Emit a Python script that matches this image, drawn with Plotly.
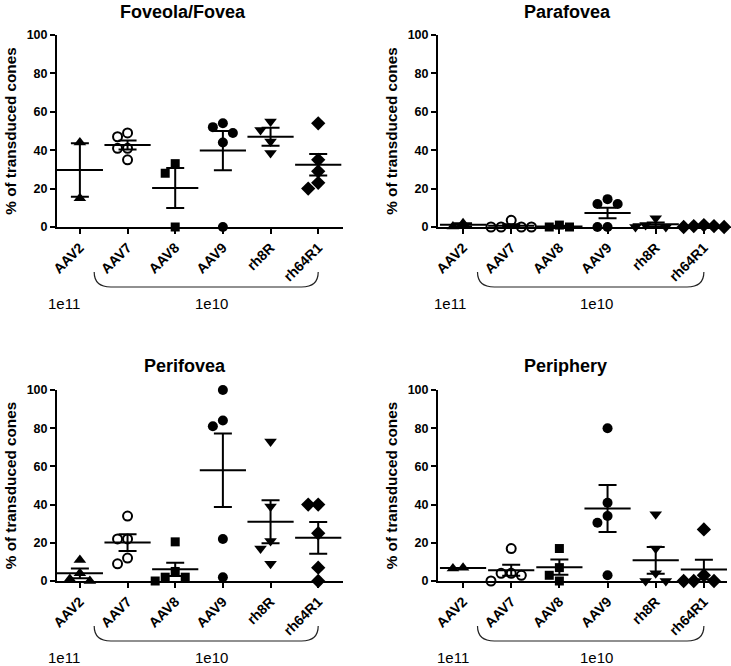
import plotly.graph_objects as go

# ---------------- data ----------------
groups = ["AAV2", "AAV7", "AAV8", "AAV9", "rh8R", "rh64R1"]
region_titles = ["Foveola/Fovea", "Parafovea", "Perifovea", "Periphery"]
dose_labels = ["1e11", "1e10"]
y_title = "% of transduced cones"
y_ticks = [0, 20, 40, 60, 80, 100]

fovea_values = [[44, 15], [49, 47, 41, 41, 35], [33, 28, 0],
                [54, 52, 49, 44, 0], [55, 50.5, 44.5, 38.5], [54, 35, 29, 23, 20]]
fovea_mean = [29.7, 42.7, 20.3, 39.8, 47.0, 32.4]
fovea_sem = [13.9, 2.4, 10.4, 10.2, 4.7, 5.6]

parafovea_values = [[2, 0.3], [3.5, 0, 0, 0, 0], [1, 0, 0],
                    [12, 12, 14.5, 0, 0], [4.5, 1, 0, 0], [1, 0.5, 0.5, 0, 0]]
parafovea_mean = [1.15, 0.7, 0.3, 7.3, 1.4, 0.4]
parafovea_sem = [0.85, 0.7, 0.3, 2.7, 1.0, 0.2]

perifovea_values = [[11, 4, 1, 0], [34, 22, 22, 12, 9], [20.5, 5, 2, 2, 0],
                    [100, 81, 84, 22, 2], [73, 39, 21, 17, 9], [40, 40, 25, 7, 0]]
perifovea_mean = [4.0, 20.1, 6.1, 58.0, 31.0, 22.6]
perifovea_sem = [2.5, 4.4, 3.5, 19.2, 11.3, 8.3]

periphery_values = [[7, 6.6], [17, 4, 4, 3, 0], [17, 7, 3, 0],
                    [80, 41, 34, 30.5, 3], [35, 17, 4, 0, 0], [27, 3, 0, 0, 0]]
periphery_mean = [6.8, 5.6, 7.25, 37.9, 10.8, 6.0]
periphery_sem = [0.0, 2.9, 3.95, 12.3, 7.0, 5.1]

# ---------------- styles / layout ----------------
W, H = 731, 666
FONT = "Liberation Sans, Arial, sans-serif"
symbols = ["triangle-up", "circle", "square", "circle", "triangle-down", "diamond"]
fills = ["black", "white", "black", "black", "black", "black"]
sizes = [11, 9, 9, 10, 11, 11]

panels = [
    dict(values=fovea_values, mean=fovea_mean, sem=fovea_sem,
         xpix=(57, 343), ypix=(227, 35), xr=(-0.48, 5.52), tpos=(183, 12), d11=-0.33),
    dict(values=parafovea_values, mean=parafovea_mean, sem=parafovea_sem,
         xpix=(438, 727), ypix=(227, 35), xr=(-0.52, 5.48), tpos=(567, 12), d11=-0.27),
    dict(values=perifovea_values, mean=perifovea_mean, sem=perifovea_sem,
         xpix=(57, 343), ypix=(581, 390), xr=(-0.48, 5.52), tpos=(185, 366), d11=-0.33),
    dict(values=periphery_values, mean=periphery_mean, sem=periphery_sem,
         xpix=(438, 727), ypix=(581, 390), xr=(-0.52, 5.48), tpos=(565, 366), d11=-0.2),
]


def swarm(vals, xs, ys, diam=10.0, step=0.21):
    placed = []
    offs = [0.0] * len(vals)
    order = sorted(range(len(vals)), key=lambda i: -vals[i])
    for i in order:
        chosen = 0.0
        for k in [0, -1, 1, -2, 2, -3, 3, -4, 4]:
            dx = k * step
            ok = all(((dx - ox) * xs) ** 2 + ((vals[i] - oy) * ys) ** 2 >= diam ** 2
                     for ox, oy in placed)
            if ok:
                chosen = dx
                break
        placed.append((chosen, vals[i]))
        offs[i] = chosen
    return offs


fig = go.Figure()
layout = dict(width=W, height=H, margin=dict(l=0, r=0, t=0, b=0, autoexpand=False),
              paper_bgcolor="white", plot_bgcolor="white", showlegend=False,
              font=dict(family=FONT, color="black"))
annotations = []
shapes = []

for p_i, p in enumerate(panels):
    n = p_i + 1
    xa = "x" if n == 1 else f"x{n}"
    ya = "y" if n == 1 else f"y{n}"
    xkey = "xaxis" if n == 1 else f"xaxis{n}"
    ykey = "yaxis" if n == 1 else f"yaxis{n}"
    x0p, x1p = p["xpix"]
    yb, yt = p["ypix"]
    xs = (x1p - x0p) / (p["xr"][1] - p["xr"][0])
    ys = (yb - yt) / 100.0

    for g_i, vals in enumerate(p["values"]):
        offs = swarm(vals, xs, ys)
        fig.add_trace(go.Scatter(
            x=[g_i + o for o in offs], y=vals, mode="markers",
            xaxis=xa, yaxis=ya, cliponaxis=False, hoverinfo="skip",
            marker=dict(symbol=symbols[g_i], size=sizes[g_i], color=fills[g_i],
                        line=dict(color="black", width=2 if fills[g_i] == "white" else 0)),
        ))
    fig.add_trace(go.Scatter(
        x=list(range(len(groups))), y=p["mean"], mode="markers",
        xaxis=xa, yaxis=ya, cliponaxis=False, hoverinfo="skip",
        marker=dict(symbol="line-ew", size=33, color="black",
                    line=dict(color="black", width=2)),
        error_y=dict(type="data", array=p["sem"], visible=True,
                     width=9, thickness=2, color="black"),
    ))

    layout[xkey] = dict(domain=[x0p / W, x1p / W], range=list(p["xr"]), anchor=ya,
                        automargin=False,
                        tickmode="array", tickvals=list(range(len(groups))), ticktext=groups,
                        tickangle=-45, ticks="outside", ticklen=5, tickwidth=2,
                        tickcolor="black", showline=True, linewidth=2, linecolor="black",
                        showgrid=False, zeroline=False, fixedrange=True,
                        tickfont=dict(family=FONT, size=14, weight="bold", color="black"))
    layout[ykey] = dict(domain=[1 - yb / H, 1 - yt / H], range=[0, 100], anchor=xa,
                        automargin=False,
                        tickmode="array", tickvals=y_ticks,
                        ticks="outside", ticklen=5, tickwidth=2, tickcolor="black",
                        showline=True, linewidth=2, linecolor="black",
                        showgrid=False, zeroline=False, fixedrange=True,
                        tickfont=dict(family=FONT, size=12.5, weight="bold", color="black"),
                        title=dict(text=y_title, standoff=6,
                                   font=dict(family=FONT, size=15.3, weight="bold", color="black")))

    # panel title
    annotations.append(dict(text=region_titles[p_i], xref="paper", yref="paper",
                            x=p["tpos"][0] / W, y=1 - p["tpos"][1] / H,
                            xanchor="center", yanchor="middle", showarrow=False,
                            font=dict(family=FONT, size=18, weight="bold", color="black")))
    # dose labels
    annotations.append(dict(text=dose_labels[0], xref=xa, yref="paper",
                            x=p["d11"], y=1 - (yb + 76) / H,
                            xanchor="center", yanchor="middle", showarrow=False,
                            font=dict(family=FONT, size=15, color="black")))
    annotations.append(dict(text=dose_labels[1], xref=xa, yref="paper",
                            x=2.77, y=1 - (yb + 76) / H,
                            xanchor="center", yanchor="middle", showarrow=False,
                            font=dict(family=FONT, size=15, color="black")))
    # bracket under the 1e10 group
    bx0, bx1, r = 1 - 0.7, 5.0, 0.35
    ytp = 1 - (yb + 45) / H
    ybt = 1 - (yb + 60) / H
    path = (f"M {bx0},{ytp} Q {bx0},{ybt} {bx0 + r},{ybt} "
            f"L {bx1 - r},{ybt} Q {bx1},{ybt} {bx1},{ytp}")
    shapes.append(dict(type="path", path=path, xref=xa, yref="paper",
                       line=dict(color="#222222", width=1.2)))

layout["annotations"] = annotations
layout["shapes"] = shapes
fig.update_layout(**layout)
fig.write_html("out.html", config={"displayModeBar": False},
               post_script="document.body.style.margin='0';document.body.style.overflow='hidden';")
